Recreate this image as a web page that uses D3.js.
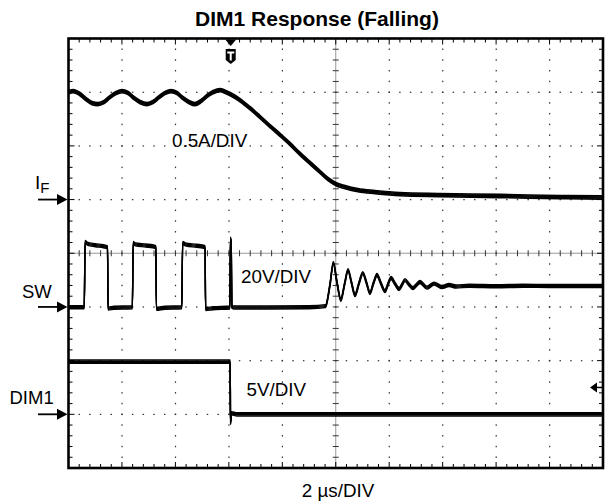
<!DOCTYPE html>
<html>
<head>
<meta charset="utf-8" />
<title>DIM1 Response (Falling)</title>
<script src="https://d3js.org/d3.v7.min.js"></script>
<style>
  body { margin: 0; background: #fff; }
  text { font-family: "Liberation Sans", Arial, sans-serif; fill: #000; }
</style>
</head>
<body>
<svg width="608" height="504"></svg>
<script>
// time axis: 2 us/DIV, 10 divisions, trigger at 0
const timeDomain = [-6, 14];
const triggerTime = 0.07;

// I_F trace (us, A) - 0.5 A/DIV
const ifTrace = [
  [-5.98, 1.0], [-5.83, 1.01], [-5.57, 0.982], [-5.35, 0.936], [-5.12, 0.899], [-4.9, 0.889],
  [-4.67, 0.908], [-4.45, 0.954], [-4.22, 0.992], [-4.0, 1.01], [-3.77, 0.992], [-3.55, 0.945],
  [-3.32, 0.908], [-3.06, 0.889], [-2.84, 0.908], [-2.61, 0.954], [-2.39, 0.992], [-2.16, 1.01],
  [-1.94, 0.992], [-1.72, 0.945], [-1.49, 0.908], [-1.27, 0.889], [-1.04, 0.917], [-0.82, 0.964],
  [-0.59, 1.0], [-0.33, 1.02], [-0.11, 1.0], [0.12, 0.973], [0.42, 0.926], [0.79, 0.852],
  [1.17, 0.768], [1.54, 0.684], [1.92, 0.601], [2.29, 0.517], [2.67, 0.424], [3.04, 0.34],
  [3.42, 0.256], [3.71, 0.191], [4.01, 0.144], [4.35, 0.116], [4.83, 0.088], [5.47, 0.07],
  [6.4, 0.051], [7.9, 0.042], [10.15, 0.033], [12.39, 0.023], [14.0, 0.019]
];

// SW trace (us, V) - 20 V/DIV
const swTrace = [
  [-6.0, -0.1], [-5.41, -0.1], [-5.38, 24.2], [-5.3, 23.6], [-5.0, 23.0], [-4.7, 22.6], [-4.54, 22.2],
  [-4.52, -0.6], [-4.3, -0.3], [-3.61, -0.1], [-3.58, 23.8], [-3.5, 23.3], [-3.1, 22.9], [-2.73, 22.3],
  [-2.71, -0.7], [-2.4, -0.3], [-1.76, -0.1], [-1.73, 23.8], [-1.6, 23.2], [-1.2, 22.8], [-0.89, 22.3],
  [-0.87, -0.8], [-0.6, -0.5], [0.04, -0.2], [0.06, 25.5], [0.09, 23.5], [0.11, 0.2], [0.2, -0.2],
  [1.5, -0.2], [3.0, -0.1], [3.62, 0.3], [3.78, 8.0], [3.91, 16.4], [4.04, 9.5], [4.19, 2.6],
  [4.33, 8.5], [4.46, 13.7], [4.59, 9.0], [4.72, 4.4], [4.87, 8.8], [5.01, 12.6], [5.15, 9.0],
  [5.28, 5.2], [5.41, 8.8], [5.54, 11.9], [5.69, 8.8], [5.84, 5.9], [5.96, 8.6], [6.07, 10.8],
  [6.22, 8.6], [6.37, 6.7], [6.48, 8.3], [6.59, 10.0], [6.74, 8.4], [6.89, 7.0], [7.02, 8.2],
  [7.15, 9.3], [7.41, 7.2], [7.68, 8.7], [7.98, 7.4], [8.24, 8.2], [8.5, 7.6], [9.0, 7.9],
  [10.0, 7.7], [11.0, 7.9], [12.0, 7.8], [13.0, 7.8], [14.0, 7.8]
];

// DIM1 trace (us, V) - 5 V/DIV
const dim1Trace = [
  [-6.0, 4.9], [-3.0, 4.9], [0.05, 4.9], [0.06, -0.8], [0.1, 0.1], [0.3, 0.0], [14.0, 0.0]
];

const channelNames = ["IF", "SW", "DIM1"];
const channelScales = ["0.5A/DIV", "20V/DIV", "5V/DIV"];
const unitsPerDiv = [0.5, 20, 5];
const groundDivs = [5, 3, 1];
const dim1TriggerLevel = 2.5;

const svg = d3.select("svg");
const X0 = 68.5, X1 = 603, Y0 = 38.5, Y1 = 468;

const x = d3.scaleLinear().domain(timeDomain).range([X0, X1]);
const xDiv = d3.scaleLinear().domain([0, 10]).range([X0, X1]);
const yDiv = d3.scaleLinear().domain([0, 8]).range([Y1, Y0]);

svg.append("rect").attr("width", 608).attr("height", 504).attr("fill", "#fff");

// graticule
const grid = svg.append("g");
const minorX = d3.range(1, 50).map(i => i / 5);
const minorY = d3.range(1, 40).map(j => j / 5);

[1, 2, 3, 4, 6, 7, 8, 9].forEach(i => {
  minorY.forEach(v => {
    grid.append("rect").attr("x", xDiv(i) - 0.5).attr("y", yDiv(v) - 0.75)
      .attr("width", 1.2).attr("height", 1.5).attr("fill", "#333");
  });
});
[1, 2, 3, 5, 6, 7].forEach(j => {
  minorX.forEach(v => {
    grid.append("rect").attr("x", xDiv(v) - 0.75).attr("y", yDiv(j) - 0.5)
      .attr("width", 1.5).attr("height", 1.2).attr("fill", "#333");
  });
});

// centre lines with ticks
grid.append("line").attr("x1", xDiv(5)).attr("x2", xDiv(5)).attr("y1", Y0).attr("y2", Y1)
  .attr("stroke", "#333").attr("stroke-width", 1).attr("stroke-dasharray", "1,1");
grid.append("line").attr("x1", X0).attr("x2", X1).attr("y1", yDiv(4)).attr("y2", yDiv(4))
  .attr("stroke", "#333").attr("stroke-width", 1).attr("stroke-dasharray", "1,1");
minorY.forEach(v => {
  grid.append("line").attr("x1", xDiv(5) - 3).attr("x2", xDiv(5) + 3)
    .attr("y1", yDiv(v)).attr("y2", yDiv(v)).attr("stroke", "#333").attr("stroke-width", 1);
});
minorX.forEach(v => {
  grid.append("line").attr("x1", xDiv(v)).attr("x2", xDiv(v))
    .attr("y1", yDiv(4) - 3).attr("y2", yDiv(4) + 3).attr("stroke", "#333").attr("stroke-width", 1);
});

// border ticks
minorX.forEach(v => {
  const len = Number.isInteger(v) ? 6 : 4;
  grid.append("line").attr("x1", xDiv(v)).attr("x2", xDiv(v)).attr("y1", Y0).attr("y2", Y0 + len)
    .attr("stroke", "#000").attr("stroke-width", 1);
  grid.append("line").attr("x1", xDiv(v)).attr("x2", xDiv(v)).attr("y1", Y1).attr("y2", Y1 - len)
    .attr("stroke", "#000").attr("stroke-width", 1);
});
minorY.forEach(v => {
  const len = Number.isInteger(v) ? 6 : 4;
  grid.append("line").attr("x1", X0).attr("x2", X0 + len).attr("y1", yDiv(v)).attr("y2", yDiv(v))
    .attr("stroke", "#000").attr("stroke-width", 1);
  grid.append("line").attr("x1", X1).attr("x2", X1 - len).attr("y1", yDiv(v)).attr("y2", yDiv(v))
    .attr("stroke", "#000").attr("stroke-width", 1);
});

// traces
svg.append("clipPath").attr("id", "plot").append("rect")
  .attr("x", X0).attr("y", Y0).attr("width", X1 - X0).attr("height", Y1 - Y0);
const traces = svg.append("g").attr("clip-path", "url(#plot)");

function drawTrace(data, ch, offsets, width) {
  const line = d3.line()
    .x(d => x(d[0]))
    .y(d => yDiv(groundDivs[ch] + d[1] / unitsPerDiv[ch]))
    .curve(d3.curveMonotoneX);
  offsets.forEach(dy => {
    traces.append("path")
      .attr("d", line(data))
      .attr("transform", `translate(0,${dy})`)
      .attr("fill", "none")
      .attr("stroke", "#000")
      .attr("stroke-width", width)
      .attr("stroke-linejoin", "round");
  });
}
drawTrace(ifTrace, 0, [-1.6, -0.5, 0.5, 1.6], 1.6);
drawTrace(swTrace, 1, [-1.5, -0.5, 0.5, 1.5], 1.4);
drawTrace(dim1Trace, 2, [-1.6, -0.5, 0.5, 1.6], 1.5);

// frame
svg.append("rect").attr("x", X0).attr("y", Y0).attr("width", X1 - X0).attr("height", Y1 - Y0)
  .attr("fill", "none").attr("stroke", "#000").attr("stroke-width", 2.6);

// trigger marker
const tx = x(triggerTime);
svg.append("path").attr("d", `M${tx - 5.5},${Y0 + 1}L${tx + 5.5},${Y0 + 1}L${tx},${Y0 + 7.5}Z`).attr("fill", "#000");
svg.append("path").attr("d", `M${tx - 5},49L${tx + 5},49L${tx + 5},60L${tx},64L${tx - 5},60Z`).attr("fill", "#000");
svg.append("path").attr("d", `M${tx - 3.5},51.5H${tx + 3.5}V53.5H${tx + 1}V60.5H${tx - 1}V53.5H${tx - 3.5}Z`).attr("fill", "#fff");

// DIM1 trigger level marker
const ty = yDiv(groundDivs[2] + dim1TriggerLevel / unitsPerDiv[2]);
svg.append("path").attr("d", `M590,${ty}L597,${ty - 5}L597,${ty + 5}Z`).attr("fill", "#000");
svg.append("line").attr("x1", 596).attr("x2", X1).attr("y1", ty).attr("y2", ty)
  .attr("stroke", "#000").attr("stroke-width", 1.5);

// ground arrows
groundDivs.forEach(g => {
  const gy = yDiv(g);
  svg.append("line").attr("x1", 38).attr("x2", 58).attr("y1", gy).attr("y2", gy)
    .attr("stroke", "#000").attr("stroke-width", 1.8);
  svg.append("path").attr("d", `M57,${gy - 5.5}L67.5,${gy}L57,${gy + 5.5}Z`).attr("fill", "#000");
});

// labels
svg.append("text").attr("x", 317).attr("y", 26).attr("text-anchor", "middle")
  .style("font-size", "21px").style("font-weight", "bold").text("DIM1 Response (Falling)");

const ifLabel = svg.append("text").attr("x", 35).attr("y", 188.5).style("font-size", "19px");
ifLabel.append("tspan").text("I");
ifLabel.append("tspan").attr("dy", 4.5).style("font-size", "15px").text("F");
svg.append("text").attr("x", 22).attr("y", 298).style("font-size", "18.5px").text(channelNames[1]);
svg.append("text").attr("x", 9.5).attr("y", 404).style("font-size", "18.5px").text(channelNames[2]);

svg.append("text").attr("x", 172).attr("y", 147).style("font-size", "18.8px").text(channelScales[0]);
svg.append("text").attr("x", 241).attr("y", 282.5).style("font-size", "18.8px").text(channelScales[1]);
svg.append("text").attr("x", 246.5).attr("y", 396).style("font-size", "18.8px").text(channelScales[2]);

svg.append("text").attr("x", 338).attr("y", 496.5).attr("text-anchor", "middle")
  .style("font-size", "18.8px").text("2 µs/DIV");
</script>
</body>
</html>
